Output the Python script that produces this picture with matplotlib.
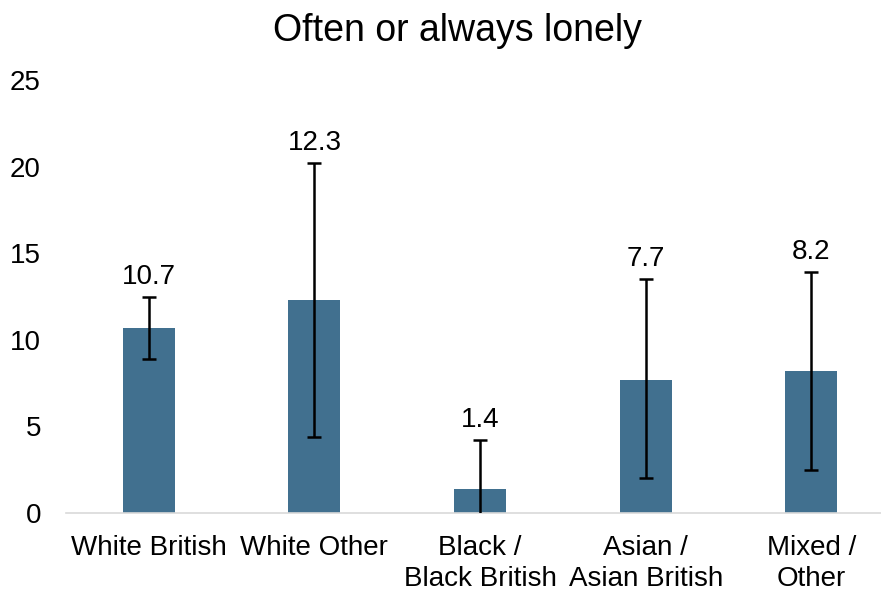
import matplotlib.pyplot as plt
import numpy as np

plt.rcParams['font.family'] = ['Liberation Sans', 'DejaVu Sans']

# Data
groups = ['White British', 'White Other', 'Black /\nBlack British',
          'Asian /\nAsian British', 'Mixed /\nOther']
values = [10.7, 12.3, 1.4, 7.7, 8.2]
ci_low = [8.9, 4.4, -1.5, 2.0, 2.5]
ci_high = [12.5, 20.2, 4.2, 13.5, 13.9]

bar_color = '#41708f'

fig = plt.figure(figsize=(8.81, 5.92), dpi=100)
ax = fig.add_axes([0.0749, 0.1334, 0.94, 0.7315])

x = np.arange(len(groups))
vals = np.array(values)
yerr = np.array([vals - np.array(ci_low), np.array(ci_high) - vals])

ax.bar(x, vals, width=0.314, color=bar_color, zorder=2)
ax.errorbar(x, vals, yerr=yerr, fmt='none', ecolor='black', elinewidth=1.8,
            capsize=5, capthick=1.8, zorder=3)

# value labels above the upper whisker
for xi, v, hi in zip(x, values, ci_high):
    ax.annotate('{:.1f}'.format(v), (xi, hi), xytext=(0, 5),
                textcoords='offset points', ha='center', va='bottom',
                fontsize=20)

ax.set_xlim(-0.5, 4.5)
ax.set_ylim(0, 25)
ax.set_yticks(range(0, 26, 5))
ax.set_xticks(x)
ax.set_xticklabels(groups, fontsize=20, linespacing=1.25)
ax.tick_params(axis='y', labelsize=20, length=0, pad=18)
ax.tick_params(axis='x', length=0, pad=16)

for side in ['top', 'right', 'left']:
    ax.spines[side].set_visible(False)
ax.spines['bottom'].set_color('#d9d9d9')
ax.spines['bottom'].set_linewidth(1.2)

fig.suptitle('Often or always lonely', fontsize=27, x=0.519, y=0.978)

fig.savefig('out.png', dpi=100)
